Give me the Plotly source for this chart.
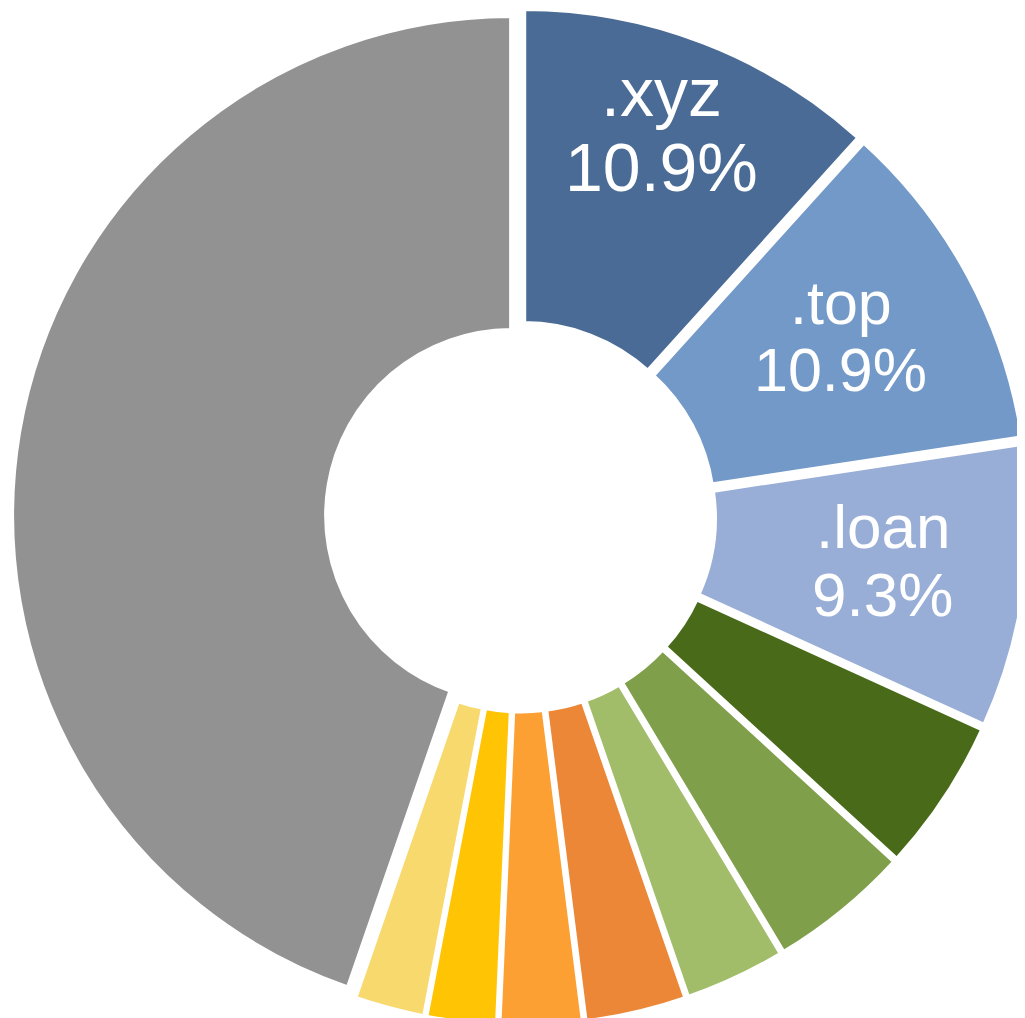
import math
import plotly.graph_objects as go

labels = [".xyz", ".top", ".loan", "d4", "d5", "d6", "d7", "d8", "d9", "d10", "other"]
values = [11.7, 10.9, 9.2, 5.0, 4.6, 3.3, 3.3, 2.7, 2.3, 2.3, 44.7]
shown_pct = ["10.9%", "10.9%", "9.3%", "", "", "", "", "", "", "", ""]
colors = ["#4A6B95", "#7399C8", "#98AED6", "#496B19", "#7F9F4A", "#A2BD69",
          "#EB8736", "#FDA034", "#FFC505", "#F7D96E", "#929292"]

# label styling (radial position as fraction of radius, font size)
label_radius = [0.825, 0.735, 0.73]
label_size = [68, 61, 62]
LABEL_ANGLE_OFFSET = -1.1  # degrees

W, H = 1025, 1018
PULL = 0.018
R = min(W, H) / 2 / (1 + PULL)

fig = go.Figure(go.Pie(
    labels=labels,
    values=values,
    textinfo="none",
    marker=dict(colors=colors, line=dict(color="white", width=5)),
    hole=0.37,
    sort=False,
    direction="clockwise",
    rotation=0,
    pull=PULL,
    showlegend=False,
))

total = sum(values)
cum = 0.0
annotations = []
k = 0
for lab, val, pct in zip(labels, values, shown_pct):
    mid = (cum + val / 2) / total * 2 * math.pi + math.radians(LABEL_ANGLE_OFFSET)
    cum += val
    if not pct:
        continue
    r = label_radius[k] * R
    fs = label_size[k]
    k += 1
    dx = r * math.sin(mid)
    dy = r * math.cos(mid)
    x = 0.5 + dx / W
    y = 0.5 + dy / H
    half = fs * 0.55
    for txt, shift in ((lab, half), (pct, -half)):
        annotations.append(dict(
            x=x, y=y, xref="paper", yref="paper", text=txt, showarrow=False,
            xanchor="center", yanchor="middle", yshift=shift,
            font=dict(family="Arial", size=fs, color="white"),
        ))

fig.update_layout(
    width=W, height=H,
    margin=dict(l=0, r=0, t=0, b=0),
    paper_bgcolor="white",
    annotations=annotations,
)
fig.write_html("out.html")
